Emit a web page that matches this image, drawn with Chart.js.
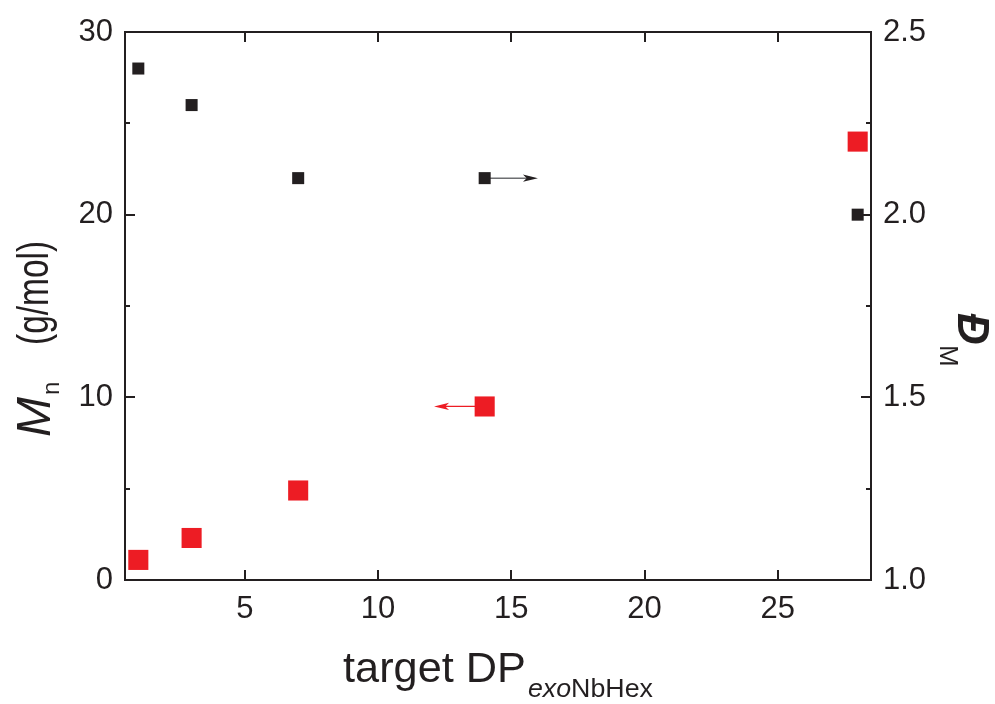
<!DOCTYPE html>
<html>
<head>
<meta charset="utf-8">
<script src="https://cdn.jsdelivr.net/npm/chart.js@4/dist/chart.umd.min.js"></script>
<style>
  html, body { margin: 0; padding: 0; background: #fff; }
  canvas { display: block; }
</style>
</head>
<body>
<canvas id="grafico" width="995" height="704"></canvas>
<script>
// Datos: DP objetivo, Mn (eje izquierdo) y dispersidad (eje derecho)
const dpTarget = [1, 3, 7, 14, 28];
const mnValues = [1.1, 2.3, 4.9, 9.5, 24];
const dispersity = [2.4, 2.3, 2.1, 2.1, 2.0];

// Marcas de los ejes
const xTickValues = [5, 10, 15, 20, 25];
const mnTickValues = [0, 10, 20, 30];
const mnMinorTicks = [5, 15, 25];
const dTickValues = [1.0, 1.5, 2.0, 2.5];
const dMinorTicks = [1.25, 1.75, 2.25];

// Flechas que indican a qué eje pertenece cada serie (salen del punto con índice 3)
const arrowIndex = 3;
const arrowTipMn = 12.1;
const arrowTipD = 16;

const FONT = '"Liberation Sans", Arial, Helvetica, sans-serif';
const INK = '#231f20';
const RED = '#ed1c24';

// Dibuja el marco, las marcas hacia dentro y los títulos con subíndices
const marcoPlugin = {
    id: 'marco',
    beforeDatasetsDraw(chart) {
        const ctx = chart.ctx;
        const x = chart.scales.x, y = chart.scales.y, y1 = chart.scales.y1;

        // Flechas (por debajo de los cuadrados)
        const drawArrow = (x0, x1, py, lineColor, headColor, lw) => {
            const dir = Math.sign(x1 - x0);
            const head = 15, half = 3.6;
            ctx.save();
            ctx.strokeStyle = lineColor;
            ctx.lineWidth = lw;
            ctx.beginPath();
            ctx.moveTo(x0, py);
            ctx.lineTo(x1 - dir * head * 0.7, py);
            ctx.stroke();
            ctx.fillStyle = headColor;
            ctx.beginPath();
            ctx.moveTo(x1, py);
            ctx.lineTo(x1 - dir * head, py - half);
            ctx.lineTo(x1 - dir * head * 0.75, py);
            ctx.lineTo(x1 - dir * head, py + half);
            ctx.closePath();
            ctx.fill();
            ctx.restore();
        };
        drawArrow(x.getPixelForValue(dpTarget[arrowIndex]), x.getPixelForValue(arrowTipD),
            y1.getPixelForValue(dispersity[arrowIndex]), '#6d6e71', INK, 1.5);
        drawArrow(x.getPixelForValue(dpTarget[arrowIndex]), x.getPixelForValue(arrowTipMn),
            y.getPixelForValue(mnValues[arrowIndex]), RED, RED, 1.3);
    },
    afterDraw(chart) {
        const ctx = chart.ctx;
        const a = chart.chartArea;
        const x = chart.scales.x, y = chart.scales.y, y1 = chart.scales.y1;

        ctx.save();
        ctx.strokeStyle = INK;
        ctx.lineWidth = 2;
        ctx.strokeRect(a.left, a.top, a.right - a.left, a.bottom - a.top);

        ctx.beginPath();
        xTickValues.forEach(v => {
            const px = Math.round(x.getPixelForValue(v));
            ctx.moveTo(px, a.bottom); ctx.lineTo(px, a.bottom - 10);
            ctx.moveTo(px, a.top); ctx.lineTo(px, a.top + 10);
        });
        mnTickValues.forEach(v => {
            const py = Math.round(y.getPixelForValue(v));
            ctx.moveTo(a.left, py); ctx.lineTo(a.left + 10, py);
        });
        mnMinorTicks.forEach(v => {
            const py = Math.round(y.getPixelForValue(v));
            ctx.moveTo(a.left, py); ctx.lineTo(a.left + 5, py);
        });
        dTickValues.forEach(v => {
            const py = Math.round(y1.getPixelForValue(v));
            ctx.moveTo(a.right, py); ctx.lineTo(a.right - 10, py);
        });
        dMinorTicks.forEach(v => {
            const py = Math.round(y1.getPixelForValue(v));
            ctx.moveTo(a.right, py); ctx.lineTo(a.right - 5, py);
        });
        ctx.stroke();

        ctx.fillStyle = INK;
        ctx.textBaseline = 'alphabetic';
        ctx.textAlign = 'left';

        // Título del eje X: "target DP" con subíndice "exoNbHex"
        const stretch = 1.03;
        const mainFont = '42px ' + FONT;
        const subItal = 'italic 26px ' + FONT;
        const subFont = '26px ' + FONT;
        ctx.font = mainFont;
        const wMain = ctx.measureText('target DP').width + 2;
        ctx.font = subItal;
        const wExo = ctx.measureText('exo').width;
        ctx.font = subFont;
        const wRest = ctx.measureText('NbHex').width;
        const total = (wMain + wExo + wRest) * stretch;
        ctx.save();
        ctx.translate((a.left + a.right) / 2 - total / 2, 0);
        ctx.scale(stretch, 1);
        let sx = 0;
        ctx.font = mainFont;
        ctx.fillText('target DP', sx, 682);
        sx += wMain;
        ctx.font = subItal;
        ctx.fillText('exo', sx, 697);
        sx += wExo;
        ctx.font = subFont;
        ctx.fillText('NbHex', sx, 697);
        ctx.restore();

        // Título del eje izquierdo: "Mn (g/mol)"
        ctx.save();
        ctx.translate(50, 437);
        ctx.rotate(-Math.PI / 2);
        ctx.font = 'italic 48px ' + FONT;
        ctx.fillText('M', 0, 0);
        ctx.font = '24px ' + FONT;
        ctx.fillText('n', 42, 9);
        ctx.translate(92, -2);
        ctx.scale(0.76, 1);
        ctx.font = '44px ' + FONT;
        ctx.fillText('(g/mol)', 0, 0);
        ctx.restore();

        // Título del eje derecho: "ĐM"
        ctx.save();
        ctx.translate(958, 313);
        ctx.rotate(Math.PI / 2);
        ctx.font = 'italic bold 44px ' + FONT;
        ctx.fillText('Đ', 0, 0);
        ctx.font = '26px ' + FONT;
        ctx.fillText('M', 32, 18);
        ctx.restore();

        ctx.restore();
    }
};

const ctx = document.getElementById('grafico').getContext('2d');

const tickFont = { family: FONT, size: 31 };

const chart = new Chart(ctx, {
    type: 'scatter',
    data: {
        datasets: [
            {
                label: 'Mn',
                data: dpTarget.map((v, i) => ({ x: v, y: mnValues[i] })),
                yAxisID: 'y',
                pointStyle: 'rect',
                pointRadius: 14.2,
                pointHoverRadius: 14.2,
                backgroundColor: RED,
                borderWidth: 0
            },
            {
                label: 'Dispersidad',
                data: dpTarget.map((v, i) => ({ x: v, y: dispersity[i] })),
                yAxisID: 'y1',
                pointStyle: 'rect',
                pointRadius: 8.5,
                pointHoverRadius: 8.5,
                backgroundColor: INK,
                borderWidth: 0
            }
        ]
    },
    options: {
        responsive: false,
        animation: false,
        events: [],
        layout: { padding: { top: 32, left: 0, right: 0, bottom: 0 } },
        plugins: {
            legend: { display: false },
            tooltip: { enabled: false }
        },
        scales: {
            x: {
                type: 'linear',
                min: 0.5,
                max: 28.5,
                afterBuildTicks: s => { s.ticks = xTickValues.map(v => ({ value: v })); },
                afterFit: s => { s.height = 124; },
                grid: { display: false, drawTicks: false, tickLength: 0 },
                border: { display: false },
                ticks: { color: INK, font: tickFont, padding: 11, maxRotation: 0 }
            },
            y: {
                type: 'linear',
                position: 'left',
                min: 0,
                max: 30,
                afterBuildTicks: s => { s.ticks = mnTickValues.map(v => ({ value: v })); },
                afterFit: s => { s.width = 125; },
                grid: { display: false, drawTicks: false, tickLength: 0 },
                border: { display: false },
                ticks: { color: INK, font: tickFont, padding: 12 }
            },
            y1: {
                type: 'linear',
                position: 'right',
                min: 1.0,
                max: 2.5,
                afterBuildTicks: s => { s.ticks = dTickValues.map(v => ({ value: v })); },
                afterFit: s => { s.width = 124; },
                grid: { display: false, drawTicks: false, tickLength: 0 },
                border: { display: false },
                ticks: {
                    color: INK,
                    font: tickFont,
                    padding: 12,
                    callback: v => Number(v).toFixed(1)
                }
            }
        }
    },
    plugins: [marcoPlugin]
});
</script>
</body>
</html>
